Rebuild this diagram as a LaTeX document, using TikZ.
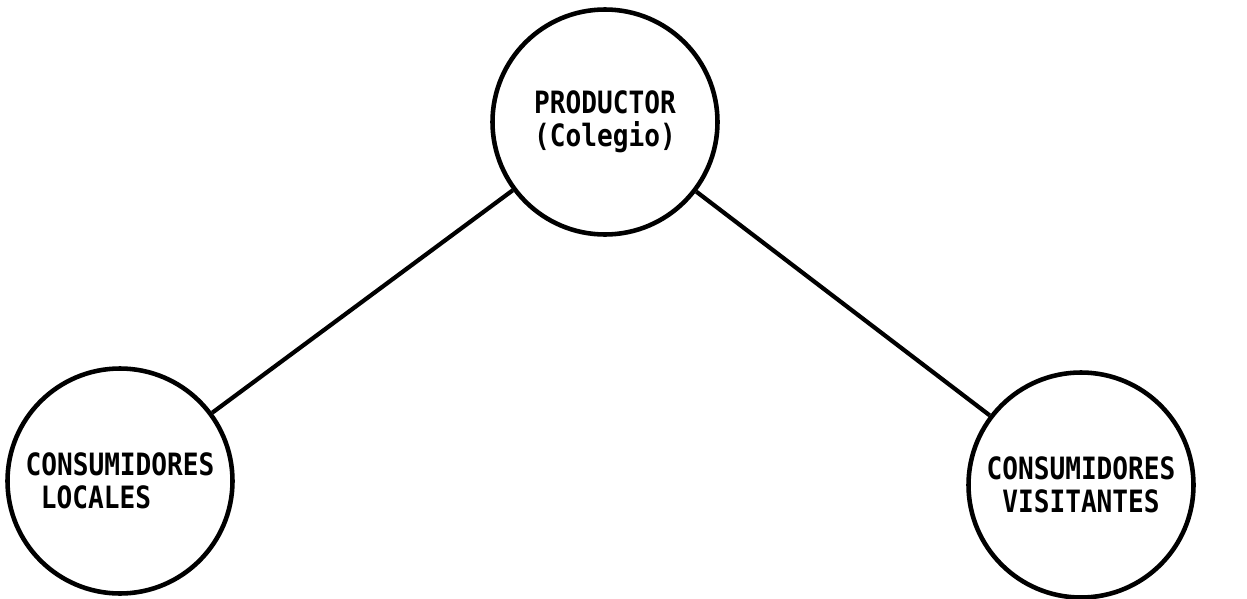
\documentclass[tikz,border=0pt]{standalone}
\usepackage{fontspec}
\usepackage{tikz}
\usetikzlibrary{positioning}
\newfontfamily\typefont[FakeStretch=0.85]{DejaVu Sans Mono}

\begin{document}
\begin{tikzpicture}[
          every node/.style={circle, draw, line width=2.6pt, minimum size=4.5cm, inner sep=0pt,
                             align=center, font=\typefont\bfseries\fontsize{17.5}{18.7}\selectfont}]
          \useasboundingbox (0,0) rectangle (24.94,-11.98);

          \node (prod) at (12.10,-2.44) {PRODUCTOR\\(Colegio)};
          \node[align=left] (loc) at (2.40,-9.62) {CONSUMIDORES\\\hspace*{0.5em}LOCALES};
          \node (vis) at (21.62,-9.70) {CONSUMIDORES\\VISITANTES};

          \draw[line width=2.4pt] (prod) -- (loc);
          \draw[line width=2.4pt] (prod) -- (vis);
        \end{tikzpicture}
\end{document}
